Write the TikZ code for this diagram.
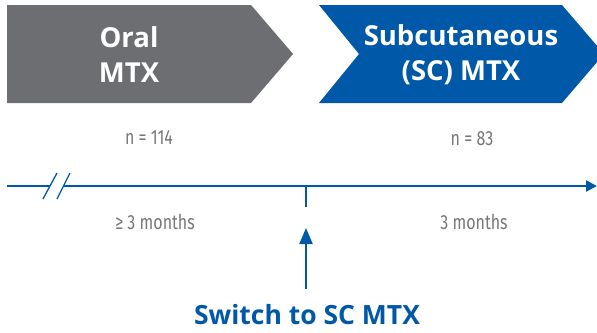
\documentclass[tikz,border=0pt]{standalone}
\usepackage{fontspec}
\setmainfont{Open Sans}
\newfontfamily\condfont[FakeStretch=0.78]{Fira Sans}
\usetikzlibrary{arrows.meta}
\definecolor{phasegrey}{HTML}{6D6E71}
\definecolor{phaseblue}{HTML}{0058A8}
\definecolor{labelgrey}{HTML}{76777A}
\tikzset{
  phasetext/.style={text=white, font=\fontsize{27.5}{35}\selectfont\bfseries, align=center},
  countlabel/.style={text=labelgrey, font=\condfont\fontsize{20.5}{24}\selectfont},
  timeline/.style={draw=phaseblue, line width=2.2pt},
}
\begin{document}
\begin{tikzpicture}[x=1pt,y=-1pt]
\useasboundingbox (0,0) rectangle (597,332);
% phase arrows
\fill[phasegrey] (7,5) -- (251,5) -- (293,54) -- (251,103) -- (7,103) -- cycle;
\fill[phaseblue] (319,5) -- (562,5) -- (604,54) -- (562,103) -- (319,103) -- (359,54) -- cycle;
\node[phasetext] (oral) at (129,55) {Oral\\MTX};
\node[phasetext] (sc) at (461,55) {Subcutaneous\\(SC) MTX};
% patient counts
\node[countlabel] (n1) at (149,138) {n = 114};
\node[countlabel] (n2) at (472,139) {n = 83};
% time axis with break marks
\coordinate (tstart) at (7,186);
\coordinate (brkA) at (50,186);
\coordinate (brkB) at (64,186);
\coordinate (switch) at (306,186);
\coordinate (tend) at (597,186);
\draw[timeline] (tstart) -- (brkA);
\draw[timeline, -{Triangle[length=11pt,width=11pt]}] (brkB) -- (tend);
\draw[draw=phaseblue, line width=1.3pt] (43,199) -- (57,173) (57,199) -- (70,173);
\draw[draw=phaseblue, line width=2pt] (switch) -- (306,207);
% durations
\node[countlabel] (d1) at (155,222) {≥ 3 months};
\node[countlabel] (d2) at (474,222) {3 months};
% switch marker
\node[text=phaseblue, font=\fontsize{26.5}{30}\selectfont\bfseries] (sw) at (307,315) {Switch to SC MTX};
\coordinate (swtop) at (306,289);
\draw[draw=phaseblue, line width=2.2pt, -{Triangle[length=16pt,width=13pt]}] (swtop) -- (306,228);
\end{tikzpicture}
\end{document}
